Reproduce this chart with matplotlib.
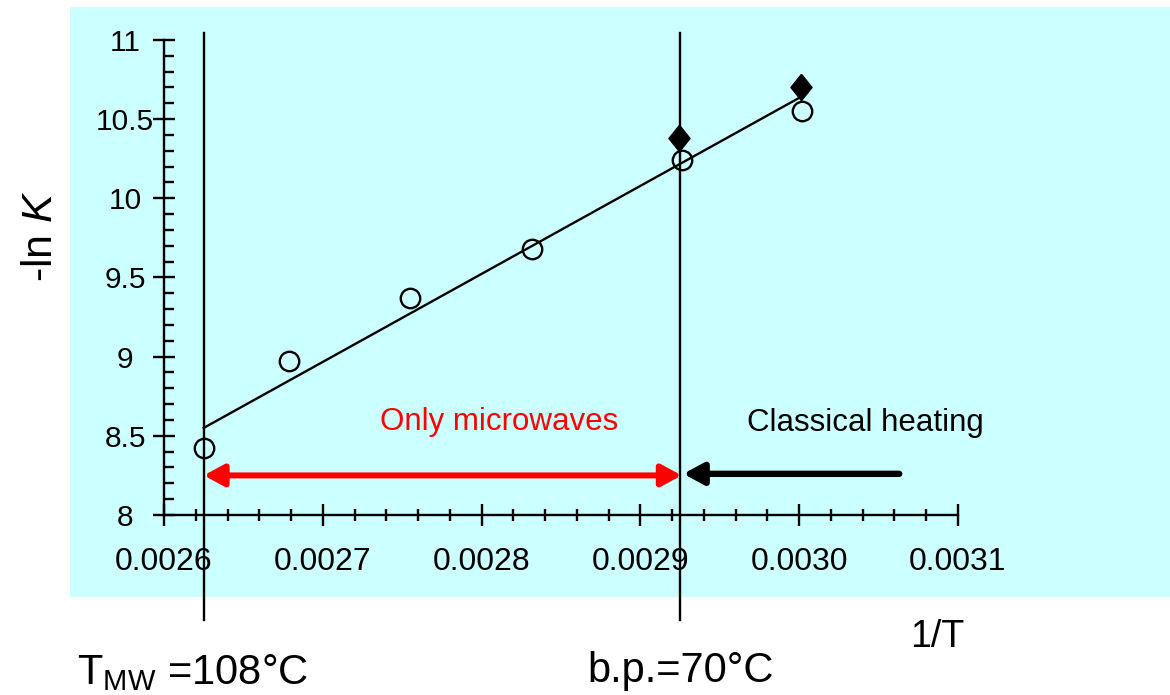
import matplotlib
matplotlib.use('Agg')
import matplotlib.pyplot as plt
from matplotlib.patches import Rectangle
from matplotlib.ticker import MultipleLocator, FixedLocator, FuncFormatter

plt.rcParams['font.family'] = ['Liberation Sans', 'DejaVu Sans']
plt.rcParams['mathtext.fontset'] = 'custom'
plt.rcParams['mathtext.rm'] = 'Liberation Sans'
plt.rcParams['mathtext.it'] = 'Liberation Sans:italic'

# data
inv_T_open = [0.002625, 0.002679, 0.002755, 0.002832, 0.002926, 0.003002]
lnK_open = [8.42, 8.97, 9.37, 9.68, 10.24, 10.55]
inv_T_filled = [0.002924, 0.003001]
lnK_filled = [10.38, 10.70]
fit_x = [0.002625, 0.003001]
fit_y = [8.55, 10.64]

x_ticks = [0.0026, 0.0027, 0.0028, 0.0029, 0.0030, 0.0031]
y_ticks = [8, 8.5, 9, 9.5, 10, 10.5, 11]

x_mw = 0.002625      # T_MW = 108 C
x_bp = 0.002925      # b.p. = 70 C
arrow_y = 8.25
classical_start = 0.003063

fig = plt.figure(figsize=(11.7, 6.95), dpi=100)
fig.add_artist(Rectangle((0.0598, 0.141), 0.9402, 0.849, transform=fig.transFigure,
                         facecolor='#CCFFFF', edgecolor='none', zorder=-5))

ax = fig.add_axes([0.1402, 0.259, 0.6786, 0.6835])
ax.set_facecolor('none')
ax.set_xlim(x_ticks[0], x_ticks[-1])
ax.set_ylim(y_ticks[0], y_ticks[-1])

for s in ['top', 'right']:
    ax.spines[s].set_visible(False)
for s in ['left', 'bottom']:
    ax.spines[s].set_linewidth(1.7)

ax.xaxis.set_major_locator(FixedLocator(x_ticks))
ax.xaxis.set_minor_locator(MultipleLocator(0.00002))
ax.xaxis.set_major_formatter(FuncFormatter(lambda v, p: '%.4f' % v))
ax.yaxis.set_major_locator(FixedLocator(y_ticks))
ax.yaxis.set_minor_locator(MultipleLocator(0.1))
ax.yaxis.set_major_formatter(FuncFormatter(lambda v, p: '%g' % v))

ax.tick_params(axis='x', which='major', direction='inout', length=16, width=1.7,
               labelsize=23, pad=15)
ax.tick_params(axis='x', which='minor', direction='inout', length=8, width=1.7)
ax.tick_params(axis='y', which='major', direction='inout', length=16, width=1.7,
               labelsize=21.5, pad=20)
ax.tick_params(axis='y', which='minor', direction='in', length=7, width=1.7)
for lab in ax.get_yticklabels():
    lab.set_horizontalalignment('center')

# vertical marker lines, running past the axes
for xv in [x_mw, x_bp]:
    ax.plot([xv, xv], [7.337, 11.044], color='black', lw=1.7, clip_on=False, zorder=2)

# fit line and points
ax.plot(fit_x, fit_y, color='black', lw=1.7, zorder=3)
ax.plot(inv_T_open, lnK_open, linestyle='none', marker='o', markersize=14,
        markerfacecolor='none', markeredgecolor='black', markeredgewidth=1.7, zorder=4)
diamond = [(0, 1), (0.8, 0), (0, -1), (-0.8, 0), (0, 1)]
ax.plot(inv_T_filled, lnK_filled, linestyle='none', marker=diamond, markersize=19,
        color='black', zorder=5)

# arrows
ax.annotate('', xy=(x_mw, arrow_y), xytext=(x_bp + 0.000001, arrow_y),
            arrowprops=dict(arrowstyle='<|-|>,head_length=12,head_width=6.5',
                            color='red', lw=4.3, shrinkA=0, shrinkB=0,
                            mutation_scale=1), zorder=6)
ax.annotate('', xy=(x_bp + 0.000002, arrow_y + 0.01), xytext=(classical_start, arrow_y + 0.01),
            arrowprops=dict(arrowstyle='-|>,head_length=12,head_width=6.5',
                            color='black', lw=4.6, shrinkA=0, shrinkB=0,
                            mutation_scale=1), zorder=6)

ax.text(0.002811, 8.59, 'Only microwaves', color='red', fontsize=22.5,
        ha='center', va='center')
ax.text(0.0030415, 8.58, 'Classical heating', color='black', fontsize=22.5,
        ha='center', va='center')

fig.text(0.035, 0.66, '-ln $K$', rotation=90, fontsize=31, ha='center', va='center')
fig.text(0.778, 0.069, '1/T', fontsize=27, ha='left', va='baseline')
fig.text(0.0658, 0.0158, 'T$_{\\mathrm{MW}}$ =108°C', fontsize=30, ha='left', va='baseline')
fig.text(0.5017, 0.0187, 'b.p.=70°C', fontsize=30, ha='left', va='baseline')

fig.savefig('out.png', dpi=100)
